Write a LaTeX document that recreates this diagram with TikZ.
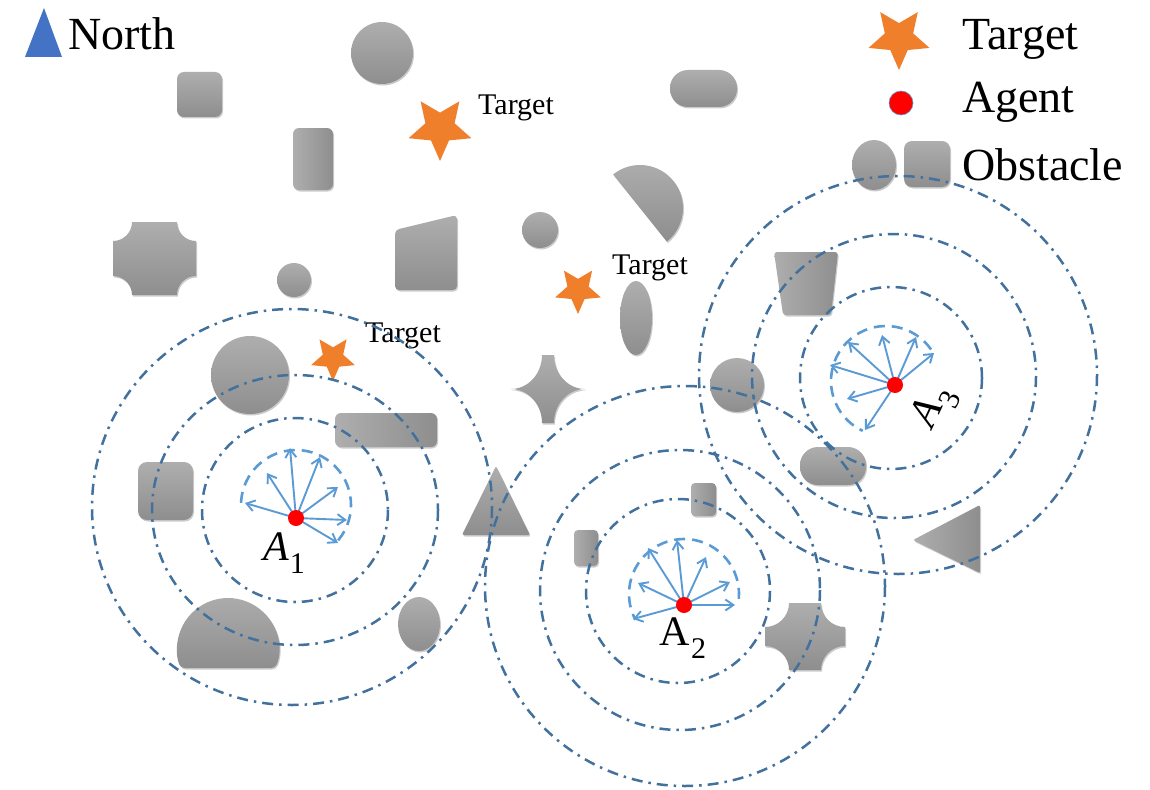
\documentclass[tikz,border=0pt]{standalone}
\usepackage{fontspec}
\setmainfont{Liberation Serif}
\usetikzlibrary{shapes.geometric,arrows.meta,shadows,calc}

\definecolor{ringblue}{HTML}{41719C}
\definecolor{fanblue}{HTML}{5B9BD5}
\definecolor{targetorange}{HTML}{F07F2C}
\definecolor{northblue}{HTML}{4472C4}
\definecolor{obslight}{HTML}{AEAEAE}
\definecolor{obsdark}{HTML}{8E8E8E}

\tikzset{
  obsshadow/.style={drop shadow={shadow xshift=1pt, shadow yshift=-1.5pt, opacity=0.2, fill=black}},
  obs/.style={top color=obslight, bottom color=obsdark, draw=none, obsshadow},
  obsh/.style={left color=obslight, right color=obsdark, draw=none, obsshadow},
  ring/.style={draw=ringblue, line width=2.5pt, dash pattern=on 11pt off 6pt on 2.5pt off 6pt},
  fan/.style={draw=fanblue, line width=2.6pt, dash pattern=on 11pt off 7pt},
  ray/.style={draw=fanblue, line width=1.9pt, -{Straight Barb[length=8pt,width=11pt]}},
  agentdot/.style={circle, fill=red, inner sep=0pt, minimum size=16pt},
  target/.style={star, star points=5, star point ratio=2.15, fill=targetorange,
                 inner sep=0pt, shape border rotate=180},
  biglbl/.style={font=\fontsize{46}{50}\selectfont, anchor=base west, inner sep=0pt},
  tlbl/.style={font=\fontsize{30}{34}\selectfont, anchor=base west, inner sep=0pt},
  agentlbl/.style={font=\fontsize{42}{46}\selectfont, inner sep=0pt},
}

% agent label: letter A with a lowered index
\newcommand{\agentname}[2]{#1A\kern1pt\raisebox{-0.3em}{\upshape\fontsize{30}{31}\selectfont #2}}

% square obstacle with quarter-circle notches at the corners
% #1,#2 = top-left, #3,#4 = bottom-right, #5 = notch radius
\newcommand{\notchedsquare}[5]{%
  \path[obs] ({#1+#5},#2) -- ({#3-#5},#2)
    arc[start angle=180, end angle=90, radius=#5]
    -- (#3,{#4-#5})
    arc[start angle=-90, end angle=-180, radius=#5]
    -- ({#1+#5},#4)
    arc[start angle=0, end angle=-90, radius=#5]
    -- (#1,{#2+#5})
    arc[start angle=90, end angle=0, radius=#5] -- cycle;}

\begin{document}
\begin{tikzpicture}[x=1pt, y=-1pt]
\useasboundingbox (0,0) rectangle (1150,789);
\fill[white] (0,0) rectangle (1150,789);

% ---------- obstacles ----------
\path[obs, rounded corners=7pt] (177,72) rectangle (222,117);
\path[obs] (382,53) circle[radius=31];
\path[obsh, rounded corners=6pt] (293,128) rectangle (333,190);
\path[obs, rounded corners=18pt] (670,70) rectangle (737,107);
\path[obs] (640,208) ++(51.3:43) arc[start angle=51.3, end angle=-128.7, radius=43] -- cycle;
\path[obs] (540,230) circle[radius=18];
\notchedsquare{113}{222}{196}{295}{19}
\path[obs] (294,280) circle[radius=17];
\path[obs, rounded corners=4pt] (395,230) -- (457,215) -- (457,290) -- (395,290) -- cycle;
\path[obs] (636,318) ellipse[x radius=16, y radius=37];
\path[obs] (542,355) -- (554,355)
  arc[start angle=180, end angle=90, x radius=31, y radius=34]
  arc[start angle=-90, end angle=-180, x radius=31, y radius=34]
  -- (542,423)
  arc[start angle=0, end angle=-90, x radius=31, y radius=34]
  arc[start angle=90, end angle=0, x radius=31, y radius=34] -- cycle;
\path[obs] (250,375) circle[radius=39];
\path[obsh, rounded corners=6pt] (335,413) rectangle (437,447);
\path[obs, rounded corners=9pt] (138,462) rectangle (193,520);
\path[obs, rounded corners=2pt] (462,535) -- (530,535) -- (496,466) -- cycle;
\path[obs] (737,385) circle[radius=27];
\path[obsh, rounded corners=3pt] (774,252) -- (838,252) -- (831,315) -- (783,315) -- cycle;
\path[obs, rounded corners=18pt] (800,447) rectangle (866,485);
\path[obsh, rounded corners=4pt] (691,483) rectangle (716,516);
\path[obsh, rounded corners=4pt] (574,530) rectangle (598,566);
\path[obsh, rounded corners=2pt] (913,540) -- (980,505) -- (980,573) -- cycle;
\notchedsquare{765}{603}{845}{670}{24}
\path[obs, rounded corners=4pt] (228,649) ++(21.9:51) arc[start angle=21.9, end angle=-201.9, radius=51] -- cycle;
\path[obs] (419,624) ellipse[x radius=21, y radius=27];

% ---------- targets ----------
\node[target, minimum size=66pt] (t1) at (440,128) {};
\node[target, minimum size=48pt] (t2) at (578,290) {};
\node[target, minimum size=46pt] (t3) at (333,358) {};
\node[tlbl] (t1l) at (478,114) {Target};
\node[tlbl] (t2l) at (612,274) {Target};
\node[tlbl] (t3l) at (365,342) {Target};

% ---------- legend ----------
\path[fill=northblue] (25,57) -- (62,57) -- (44,8) -- cycle;
\node[biglbl] (north) at (68,50) {North};
\node[target, minimum size=64pt] (lgstar) at (899,38) {};
\node[biglbl] (lgtarget) at (962,50) {Target};
\node[circle, fill=red, draw=fanblue, line width=0.6pt, inner sep=0pt, minimum size=24pt] (lgdot) at (901,103) {};
\node[biglbl] (lgagent) at (962,113) {Agent};
\path[obs] (874,165) ellipse[x radius=22, y radius=25];
\path[obs, rounded corners=8pt] (904,141) rectangle (950,187);
\node[biglbl] (lgobs) at (962,180) {Obstacle};

% ---------- sensing rings ----------
\draw[ring] (295,510) ellipse[x radius=93, y radius=92];
\draw[ring] (295,510) ellipse[x radius=143, y radius=135];
\draw[ring] (292,507) ellipse[x radius=200, y radius=198];

\draw[ring] (678,591) circle[radius=92];
\draw[ring] (680,590) circle[radius=140];
\draw[ring] (685,586) circle[radius=200];

\draw[ring] (891,378) circle[radius=91];
\draw[ring] (894,376) circle[radius=142];
\draw[ring] (898,375) circle[radius=199];

% ---------- agent A1 ----------
\coordinate (c1) at (296,518);
\draw[fan] (296,505) ++(40:55) arc[start angle=40, end angle=-180, radius=55];
\foreach \p in {(245,503),(267,473),(290,448),(320,457),(338,487),(347,520),(338,543)}
  \draw[ray] (c1) -- \p;
\node[agentdot] (a1) at (c1) {};
\node[agentlbl] (a1l) at (284,553) {\agentname{\itshape}{1}};

% ---------- agent A2 ----------
\coordinate (c2) at (684,605);
\draw[fan] (684,594) ++(5:55) arc[start angle=5, end angle=-208, radius=55];
\foreach \p in {(633,619),(638,583),(648,548),(677,540),(706,557),(730,582),(735,605)}
  \draw[ray] (c2) -- \p;
\node[agentdot] (a2) at (c2) {};
\node[agentlbl] (a2l) at (683,638) {\agentname{\upshape}{2}};

% ---------- agent A3 ----------
\coordinate (c3) at (895,385);
\draw[fan] (886,381) ++(-35:55) arc[start angle=-35, end angle=-245, radius=55];
\foreach \p in {(865,430),(847,399),(830,365),(848,342),(882,335),(916,337),(934,353)}
  \draw[ray] (c3) -- \p;
\node[agentdot] (a3) at (c3) {};
\node[agentlbl, rotate=65] (a3l) at (935,407) {\agentname{\itshape}{3}};

\end{tikzpicture}
\end{document}
